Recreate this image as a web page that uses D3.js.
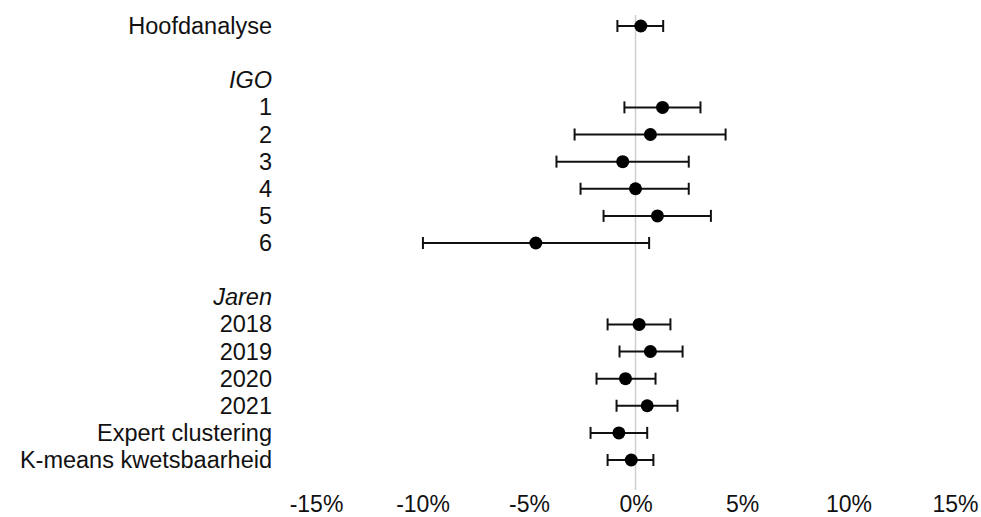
<!DOCTYPE html>
<html>
<head>
<meta charset="utf-8">
<script src="https://cdn.jsdelivr.net/npm/d3@7"></script>
<style>
  body { margin: 0; background: #fff; }
  text { font-family: "Liberation Sans", Arial, sans-serif; fill: #111; }
</style>
</head>
<body>
<div id="chart"></div>
<script>
// rows from top to bottom; '' = empty spacer row, headers are italic
var rowLabels = ['Hoofdanalyse', '', 'IGO', '1', '2', '3', '4', '5', '6', '', 'Jaren',
  '2018', '2019', '2020', '2021', 'Expert clustering', 'K-means kwetsbaarheid'];
var headerRows = ['IGO', 'Jaren'];
// effect estimates (%) and confidence bounds, null where there is no estimate
var estimate = [0.25, null, null, 1.27, 0.7, -0.6, 0.0, 1.03, -4.68, null, null,
  0.17, 0.7, -0.47, 0.55, -0.78, -0.2];
var lower = [-0.85, null, null, -0.52, -2.86, -3.71, -2.58, -1.5, -9.98, null, null,
  -1.31, -0.75, -1.83, -0.89, -2.11, -1.31];
var upper = [1.3, null, null, 3.05, 4.23, 2.5, 2.5, 3.54, 0.64, null, null,
  1.64, 2.21, 0.94, 1.97, 0.55, 0.84];
var xTicks = [-15, -10, -5, 0, 5, 10, 15];

var width = 981, height = 517;
var font = '"Liberation Sans", Arial, sans-serif';
var svg = d3.select('#chart').append('svg')
  .attr('width', width)
  .attr('height', height);

var rows = rowLabels.map(function(l, i) {
  return { key: 'r' + i, label: l, est: estimate[i], lo: lower[i], hi: upper[i] };
});

var xScale = d3.scaleLinear().domain([-15, 15]).range([316, 955]);
var yScale = d3.scalePoint().domain(rows.map(d => d.key)).range([26, 460]);

// zero reference line
svg.append('line')
  .attr('x1', xScale(0)).attr('x2', xScale(0))
  .attr('y1', 15).attr('y2', 490)
  .style('stroke', '#cfcfcf')
  .style('stroke-width', 1.5);

// row labels
var yAxis = d3.axisLeft(yScale).tickSize(0).tickPadding(0)
  .tickFormat(k => rows.find(d => d.key === k).label);
var yG = svg.append('g')
  .attr('transform', 'translate(272,0)')
  .call(yAxis);
yG.select('.domain').remove();
yG.selectAll('text')
  .attr('font-size', 23.5)
  .attr('font-family', font)
  .attr('fill', '#111')
  .attr('font-style', k => headerRows.indexOf(rows.find(d => d.key === k).label) >= 0 ? 'italic' : 'normal');

// x axis labels
var xAxis = d3.axisBottom(xScale).tickValues(xTicks).tickSize(0).tickPadding(0)
  .tickFormat(d => d + '%');
var xG = svg.append('g')
  .attr('transform', 'translate(0,496)')
  .call(xAxis);
xG.select('.domain').remove();
xG.selectAll('text')
  .attr('font-size', 23)
  .attr('font-family', font)
  .attr('fill', '#111');

// error bars and points
var est = rows.filter(d => d.est !== null);
var g = svg.append('g');
var capH = 6;
g.selectAll('line.ci').data(est).enter().append('line')
  .attr('class', 'ci')
  .attr('x1', d => xScale(d.lo)).attr('x2', d => xScale(d.hi))
  .attr('y1', d => yScale(d.key)).attr('y2', d => yScale(d.key))
  .style('stroke', '#111').style('stroke-width', 2);
g.selectAll('line.capl').data(est).enter().append('line')
  .attr('class', 'capl')
  .attr('x1', d => xScale(d.lo)).attr('x2', d => xScale(d.lo))
  .attr('y1', d => yScale(d.key) - capH).attr('y2', d => yScale(d.key) + capH)
  .style('stroke', '#111').style('stroke-width', 2);
g.selectAll('line.caph').data(est).enter().append('line')
  .attr('class', 'caph')
  .attr('x1', d => xScale(d.hi)).attr('x2', d => xScale(d.hi))
  .attr('y1', d => yScale(d.key) - capH).attr('y2', d => yScale(d.key) + capH)
  .style('stroke', '#111').style('stroke-width', 2);
g.selectAll('circle').data(est).enter().append('circle')
  .attr('cx', d => xScale(d.est))
  .attr('cy', d => yScale(d.key))
  .attr('r', 6.5)
  .attr('fill', '#000');
</script>
</body>
</html>
